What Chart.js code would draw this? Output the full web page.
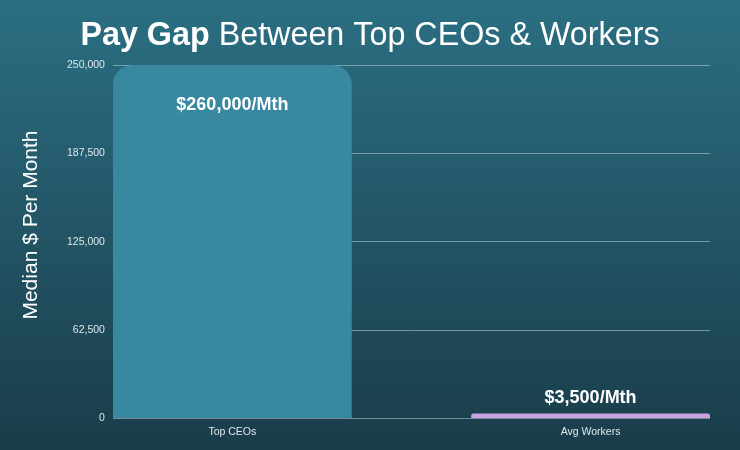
<!DOCTYPE html>
<html>
<head>
<meta charset="utf-8">
<script src="https://cdn.jsdelivr.net/npm/chart.js@4/dist/chart.umd.min.js"></script>
<style>
  html, body { margin: 0; padding: 0; background: #1b3e4c; }
  #wrap { width: 740px; height: 450px; position: relative; }
</style>
</head>
<body>
<div id="wrap"><canvas id="c"></canvas></div>
<script>
// ---- Data ----
const categories = ['Top CEOs', 'Avg Workers'];
const monthlyPay = [260000, 3500];
const payLabels = ['$260,000/Mth', '$3,500/Mth'];
const yTicks = [0, 62500, 125000, 187500, 250000];
const barColors = ['#3888a0', '#c9a3e0'];

const yMax = yTicks[yTicks.length - 1];
const FONT = '"Liberation Sans", Arial, Helvetica, sans-serif';

const bgPlugin = {
  id: 'bg',
  beforeDraw(chart) {
    const { ctx, width, height } = chart;
    const g = ctx.createLinearGradient(0, 0, 0, height);
    g.addColorStop(0, '#2b6f82');
    g.addColorStop(1, '#1a3c4a');
    ctx.save();
    ctx.fillStyle = g;
    ctx.fillRect(0, 0, width, height);
    // Title with mixed weights
    ctx.fillStyle = '#ffffff';
    ctx.textBaseline = 'alphabetic';
    const bold = 'bold 32.3px ' + FONT;
    const reg = '32.3px ' + FONT;
    const t1 = 'Pay Gap', t2 = ' Between Top CEOs & Workers';
    ctx.font = bold; const w1 = ctx.measureText(t1).width;
    ctx.font = reg; const w2 = ctx.measureText(t2).width;
    let x = width / 2 - (w1 + w2) / 2;
    ctx.font = bold; ctx.textAlign = 'left'; ctx.fillText(t1, x, 45);
    ctx.font = reg; ctx.fillText(t2, x + w1, 45);
    // Y axis title
    ctx.translate(37, height / 2);
    ctx.rotate(-Math.PI / 2);
    ctx.font = '21px ' + FONT;
    ctx.textAlign = 'center';
    ctx.fillText('Median $ Per Month', 0, 0);
    ctx.restore();
  }
};

const labelPlugin = {
  id: 'barLabels',
  afterDatasetsDraw(chart) {
    const { ctx } = chart;
    const meta = chart.getDatasetMeta(0);
    ctx.save();
    ctx.fillStyle = '#ffffff';
    ctx.font = 'bold 18px ' + FONT;
    ctx.textAlign = 'center';
    ctx.textBaseline = 'middle';
    meta.data.forEach((bar, i) => {
      const h = bar.base - bar.y;
      const y = h > 60 ? bar.y + 40 : bar.y - 15;
      ctx.fillText(payLabels[i], bar.x, y);
    });
    ctx.restore();
  }
};

new Chart(document.getElementById('c'), {
  type: 'bar',
  data: {
    datasets: [{
      // bar drawn up to the axis maximum (value exceeds the axis range)
      data: categories.map((c, i) => ({ x: i, y: Math.min(monthlyPay[i], yMax) })),
      backgroundColor: barColors,
      borderRadius: 20,
      borderSkipped: 'start',
      categoryPercentage: 1,
      barPercentage: 2 / 3
    }]
  },
  options: {
    responsive: true,
    maintainAspectRatio: false,
    animation: false,
    layout: { padding: { top: 65, left: 59, right: 30, bottom: 5 } },
    plugins: { legend: { display: false }, tooltip: { enabled: false }, title: { display: false } },
    scales: {
      x: {
        type: 'linear',
        offset: false,
        min: -1 / 3,
        max: 4 / 3,
        afterBuildTicks: s => { s.ticks = categories.map((c, i) => ({ value: i })); },
        grid: { display: false, drawTicks: false, offset: false },
        border: { display: false },
        ticks: {
          callback: v => categories[v],
          color: '#dfe8ec',
          font: { family: FONT, size: 10.5 },
          padding: 7,
          maxRotation: 0,
          autoSkip: false
        }
      },
      y: {
        min: 0,
        max: yMax,
        afterBuildTicks: s => { s.ticks = yTicks.map(v => ({ value: v })); },
        grid: { color: 'rgba(220,235,240,0.45)', lineWidth: 1, drawTicks: false },
        border: { display: false },
        ticks: {
          callback: v => v.toLocaleString('en-US'),
          color: '#dfe8ec',
          font: { family: FONT, size: 10.5 },
          padding: 8
        }
      }
    }
  },
  plugins: [bgPlugin, labelPlugin]
});
</script>
</body>
</html>
